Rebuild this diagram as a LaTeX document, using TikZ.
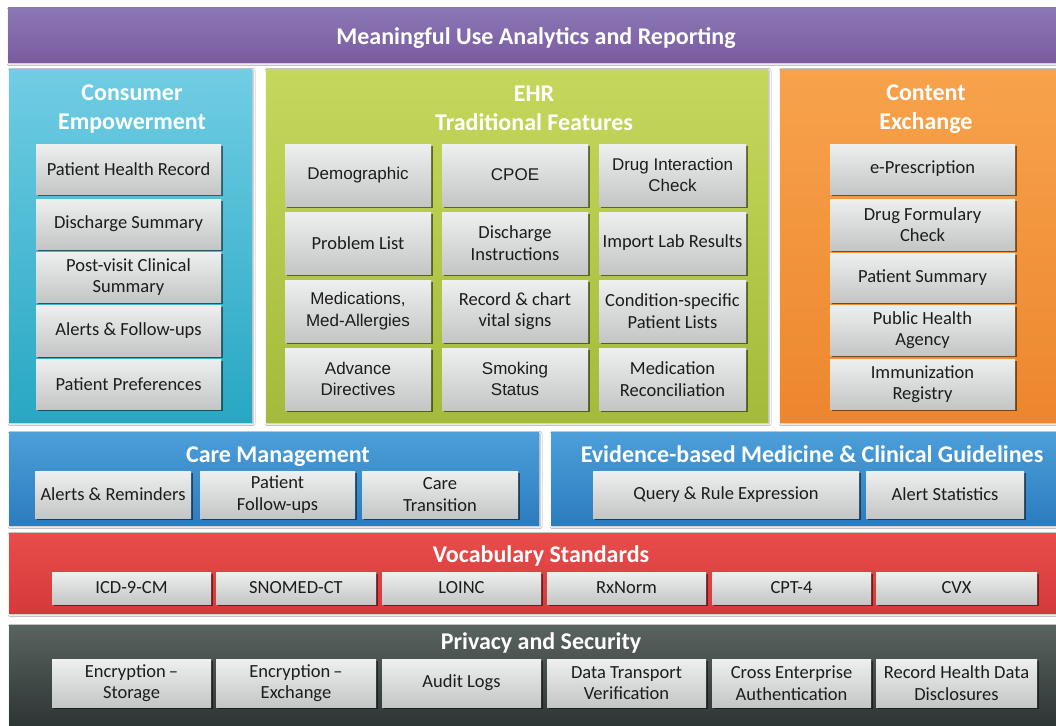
\documentclass[tikz,border=0pt]{standalone}
\usepackage{fontspec}
\setmainfont{Carlito}
\newfontfamily\arialf{Liberation Sans}
\usetikzlibrary{shadows,shadows.blur}
\definecolor{boxtop}{HTML}{EEEFEF}
\definecolor{boxbot}{HTML}{C4C5C5}
\definecolor{boxtext}{HTML}{1C1C1C}
\definecolor{pu t}{HTML}{8B78B6}\definecolor{pu b}{HTML}{7A5B9F}
\definecolor{cy t}{HTML}{70CDE4}\definecolor{cy b}{HTML}{28A7C3}
\definecolor{gr t}{HTML}{C6D85C}\definecolor{gr b}{HTML}{A3BA3A}
\definecolor{or t}{HTML}{F7A34B}\definecolor{or b}{HTML}{ED862E}
\definecolor{bl t}{HTML}{4C9FD9}\definecolor{bl b}{HTML}{2C7CBF}
\definecolor{rd t}{HTML}{E84C4B}\definecolor{rd b}{HTML}{D53A3A}
\definecolor{dk t}{HTML}{59635F}\definecolor{dk b}{HTML}{2D3434}
\newcommand\bx[7][]{\node[gbox,#1,minimum width={#5-#3},minimum height={#6-#4}] (#2) at ({(#3+#5)/2},{(#4+#6)/2}) {#7};}
\newcommand\pn[6]{\node[panel,top color={#6 t},bottom color={#6 b},minimum width={#4-#2},minimum height={#5-#3}] (#1) at ({(#2+#4)/2},{(#3+#5)/2}) {};}
\begin{document}
\begin{tikzpicture}[x=1pt,y=-1pt,
  gbox/.style={draw=none,inner sep=1pt,align=center,text=boxtext,
    top color=boxtop,bottom color=boxbot,
    font=\fontsize{18.5}{21.5}\selectfont,
    drop shadow={shadow xshift=1.6pt,shadow yshift=-2pt,opacity=0.5,fill=black}},
  ar/.style={font=\arialf\fontsize{17}{21.5}\selectfont},
  panel/.style={draw=none,inner sep=0pt,
    blur shadow={shadow xshift=1pt,shadow yshift=-1.5pt,shadow blur steps=4,shadow blur radius=2pt,shadow opacity=35}},
  ttl/.style={text=white,align=center,font=\bfseries\fontsize{24}{29}\selectfont,inner sep=0pt}]
\useasboundingbox[fill=white] (0,0) rectangle (1056,725);
% panels
\pn{top}{8}{8}{1056}{62}{pu}
\pn{cons}{9}{69}{252}{422}{cy}
\pn{ehr}{266}{69}{768}{422}{gr}
\pn{cont}{780}{69}{1056}{422}{or}
\pn{care}{9}{432}{539}{525}{bl}
\pn{evid}{551}{432}{1056}{525}{bl}
\pn{vocab}{9}{533}{1056}{613}{rd}
\pn{priv}{9}{625}{1056}{728}{dk}
% titles
\node[ttl] (ttop) at (536,38) {Meaningful Use Analytics and Reporting};
\node[ttl] (tcons) at (132,109) {Consumer\\Empowerment};
\node[ttl] (tehr) at (534,108) {EHR\\Traditional Features};
\node[ttl] (tcont) at (926,109) {Content\\Exchange};
\node[ttl] (tcare) at (278,457) {Care Management};
\node[ttl] (tevid) at (812,454) {Evidence-based Medicine \& Clinical Guidelines};
\node[ttl] (tvocab) at (541,556) {Vocabulary Standards};
\node[ttl] (tpriv) at (541,643) {Privacy and Security};
% consumer empowerment
\bx{c1}{36}{144}{221}{194}{Patient Health Record}
\bx{c2}{36}{199}{221}{249}{Discharge Summary}
\bx{c3}{36}{252}{221}{302}{Post-visit Clinical\\Summary}
\bx{c4}{36}{305}{221}{356}{Alerts \& Follow-ups}
\bx{c5}{36}{359}{221}{409}{Patient Preferences}
% EHR
\bx[ar]{e11}{285}{144}{431}{206}{Demographic}
\bx[ar]{e12}{442}{144}{588}{206}{CPOE}
\bx[ar]{e13}{599}{144}{746}{206}{Drug Interaction\\Check}
\bx{e21}{285}{212}{431}{274}{Problem List}
\bx{e22}{442}{212}{588}{274}{Discharge\\Instructions}
\bx{e23}{599}{212}{746}{274}{Import Lab Results}
\bx[ar]{e31}{285}{280}{431}{342}{Medications,\\Med-Allergies}
\bx{e32}{442}{280}{588}{342}{Record \& chart\\vital signs}
\bx{e33}{599}{280}{746}{342}{Condition-specific\\Patient Lists}
\bx[ar]{e41}{285}{348}{431}{410}{Advance\\Directives}
\bx[ar]{e42}{442}{348}{588}{410}{Smoking\\Status}
\bx{e43}{599}{348}{746}{410}{Medication\\Reconciliation}
% content exchange
\bx{x1}{830}{144}{1015}{194}{e-Prescription}
\bx{x2}{830}{199}{1015}{250}{Drug Formulary\\Check}
\bx{x3}{830}{253}{1015}{302}{Patient Summary}
\bx{x4}{830}{305}{1015}{355}{Public Health\\Agency}
\bx{x5}{830}{359}{1015}{409}{Immunization\\Registry}
% care management
\bx{m1}{35}{471}{191}{518}{Alerts \& Reminders}
\bx{m2}{200}{471}{355}{518}{Patient\\Follow-ups}
\bx{m3}{362}{471}{518}{518}{Care\\Transition}
% evidence
\bx{v1}{593}{471}{859}{518}{Query \& Rule Expression}
\bx{v2}{866}{471}{1024}{518}{Alert Statistics}
% vocabulary
\bx{s1}{52}{572}{211}{604}{ICD-9-CM}
\bx{s2}{216}{572}{376}{604}{SNOMED-CT}
\bx{s3}{382}{572}{541}{604}{LOINC}
\bx{s4}{547}{572}{706}{604}{RxNorm}
\bx{s5}{712}{572}{871}{604}{CPT-4}
\bx{s6}{876}{572}{1037}{604}{CVX}
% privacy
\bx{p1}{52}{659}{211}{707}{Encryption\,--\\Storage}
\bx{p2}{216}{659}{376}{707}{Encryption\,--\\Exchange}
\bx{p3}{382}{659}{541}{707}{Audit Logs}
\bx{p4}{547}{659}{706}{707}{Data Transport\\Verification}
\bx{p5}{712}{659}{871}{707}{Cross Enterprise\\Authentication}
\bx{p6}{876}{659}{1037}{707}{Record Health Data\\Disclosures}
\end{tikzpicture}
\end{document}
